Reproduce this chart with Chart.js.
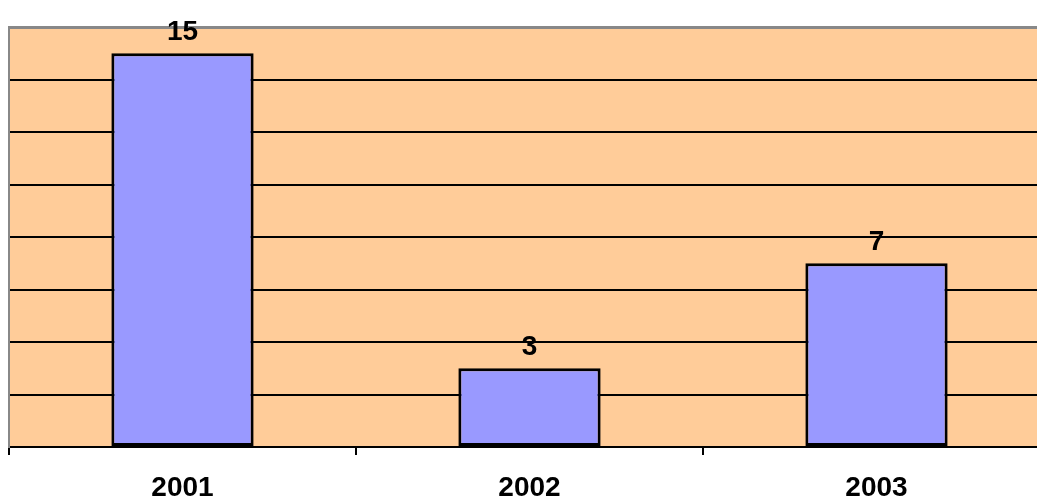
<!DOCTYPE html>
<html>
<head>
<meta charset="utf-8">
<script src="https://cdn.jsdelivr.net/npm/chart.js@4"></script>
<style>
  html, body { margin: 0; padding: 0; background: #fff; overflow: hidden; }
  #wrap { position: relative; width: 1060px; height: 501px; }
</style>
</head>
<body>
<div id="wrap"><canvas id="c"></canvas></div>
<script>
const years = ['2001', '2002', '2003'];
const counts = [15, 3, 7];
const yMax = 16;
const yStep = 2;

const FONT = '"Liberation Sans", Arial, sans-serif';

// Peach fill behind the plot area
const plotBackground = {
  id: 'plotBackground',
  beforeDraw(chart) {
    const { ctx, chartArea: a } = chart;
    ctx.save();
    ctx.fillStyle = '#FFCC99';
    ctx.fillRect(a.left, a.top, a.right - a.left, a.bottom - a.top);
    ctx.restore();
  }
};

// Bold value written above each bar
const valueLabels = {
  id: 'valueLabels',
  afterDatasetsDraw(chart) {
    const { ctx } = chart;
    const meta = chart.getDatasetMeta(0);
    ctx.save();
    ctx.font = 'bold 28px ' + FONT;
    ctx.fillStyle = '#000';
    ctx.textAlign = 'center';
    ctx.textBaseline = 'alphabetic';
    meta.data.forEach((bar, i) => {
      ctx.fillText(String(counts[i]), bar.x, bar.y - 13);
    });
    ctx.restore();
  }
};

new Chart(document.getElementById('c'), {
  type: 'bar',
  data: {
    labels: years,
    datasets: [{
      data: counts,
      backgroundColor: '#9999FF',
      borderColor: '#000',
      borderWidth: 3,
      borderSkipped: false,
      categoryPercentage: 1,
      barPercentage: 0.41
    }]
  },
  options: {
    responsive: true,
    maintainAspectRatio: false,
    animation: false,
    layout: { padding: { left: 9, right: 10, top: 27, bottom: 0 } },
    plugins: { legend: { display: false }, tooltip: { enabled: false } },
    scales: {
      x: {
        offset: true,
        afterFit(s) { s.height = 54; },
        grid: {
          offset: true,
          drawOnChartArea: false,
          drawTicks: true,
          tickLength: 8,
          color: '#000',
          lineWidth: 2
        },
        border: { display: true, color: '#000', width: 2 },
        ticks: {
          color: '#000',
          padding: 16,
          font: { family: FONT, size: 28, weight: 'bold' }
        }
      },
      y: {
        min: 0,
        max: yMax,
        afterFit(s) { s.width = 0; },
        ticks: { display: false, stepSize: yStep },
        grid: {
          drawTicks: false,
          color: c => (c.tick && c.tick.value === yMax ? '#888888' : '#000'),
          lineWidth: c => (c.tick && c.tick.value === yMax ? 3 : 2)
        },
        border: { display: true, color: '#888888', width: 2 }
      }
    }
  },
  plugins: [plotBackground, valueLabels]
});
</script>
</body>
</html>
